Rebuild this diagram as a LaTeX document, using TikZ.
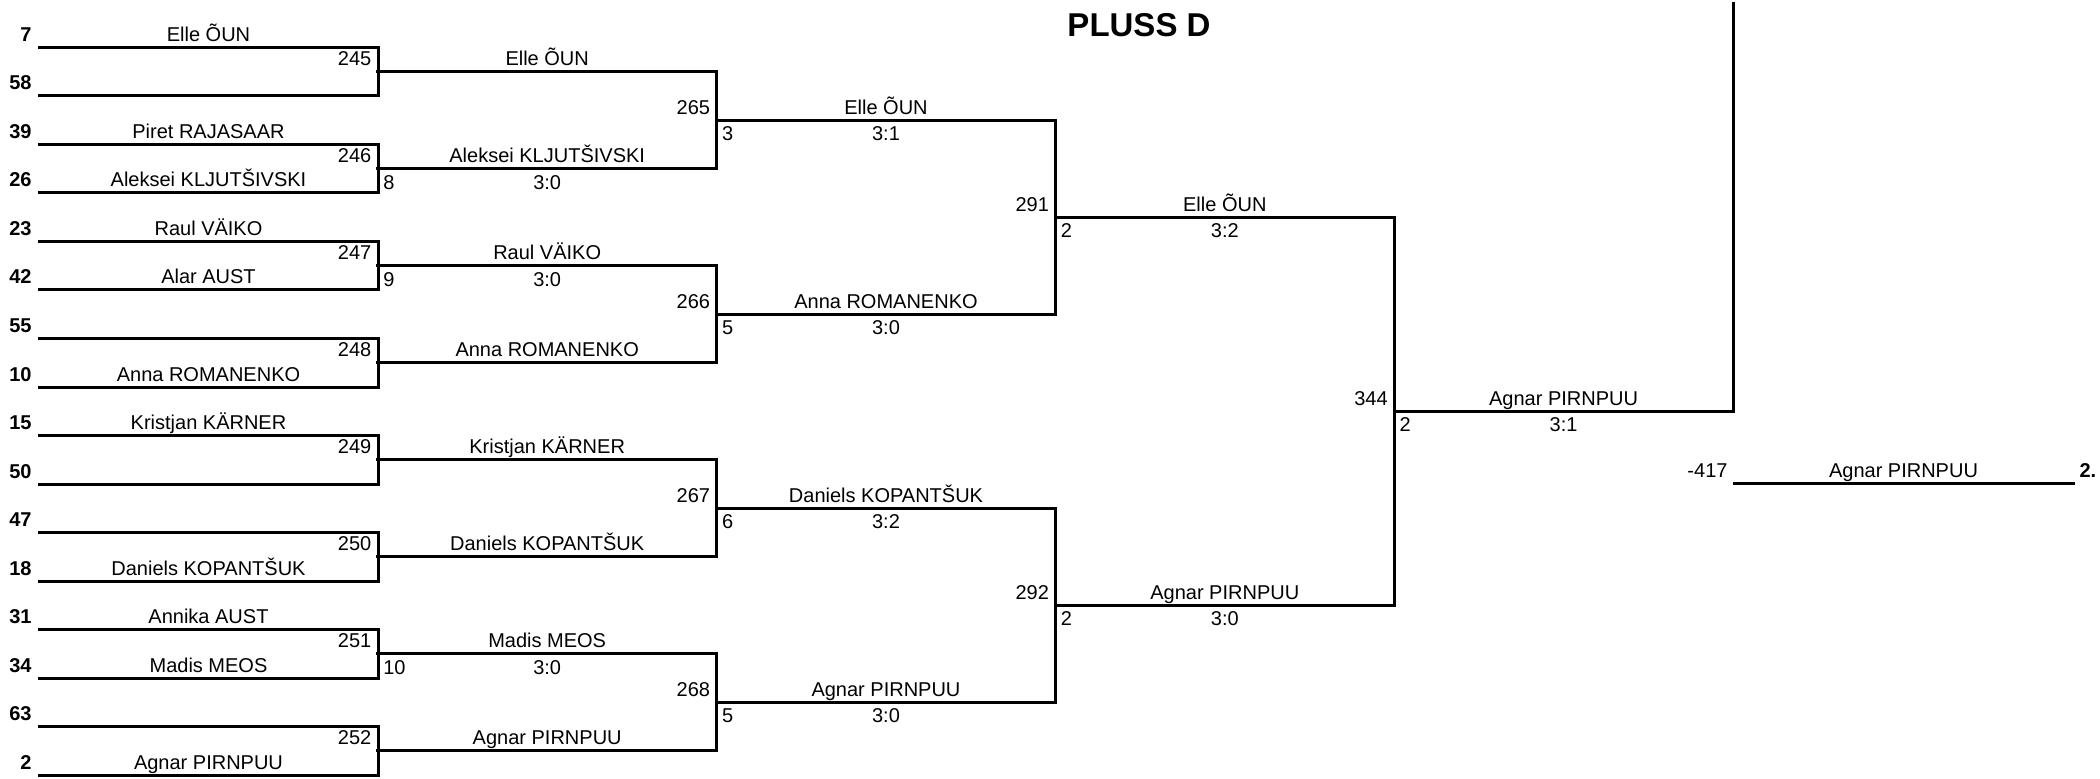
\documentclass[tikz,border=0pt]{standalone}
\usepackage{fontspec}
\setmainfont{Liberation Sans}
\usepackage{tikz}

\tikzset{
  player/.style={inner sep=0pt, anchor=base, font=\fontsize{10}{12}\selectfont},
  seedno/.style={inner sep=0pt, anchor=base east, font=\fontsize{10}{12}\selectfont\bfseries},
  matchno/.style={inner sep=0pt, anchor=base east, font=\fontsize{10}{12}\selectfont},
  tableno/.style={inner sep=0pt, anchor=north west, font=\fontsize{10}{12}\selectfont},
  result/.style={inner sep=0pt, anchor=north, font=\fontsize{10}{12}\selectfont},
}

\begin{document}
\begin{tikzpicture}[x=0.5pt, y=-0.5pt, line width=1.5pt, line cap=rect]
    \useasboundingbox (0,0) rectangle (2100,779);
    \node[font=\fontsize{16.5}{20}\selectfont\bfseries, inner sep=0pt, anchor=base] (title) at (1139,37) {PLUSS D};
    % first round
    \foreach \i/\s/\n in {0/7/Elle ÕUN, 1/58/, 2/39/Piret RAJASAAR, 3/26/Aleksei KLJUTŠIVSKI,
        4/23/Raul VÄIKO, 5/42/Alar AUST, 6/55/, 7/10/Anna ROMANENKO,
        8/15/Kristjan KÄRNER, 9/50/, 10/47/, 11/18/Daniels KOPANTŠUK,
        12/31/Annika AUST, 13/34/Madis MEOS, 14/63/, 15/2/Agnar PIRNPUU} {
        \coordinate (R0-\i) at (39,{47.3+48.53*\i});
        \coordinate (R1-\i) at (378,{47.3+48.53*\i});
        \draw (R0-\i) -- (R1-\i);
        \node[seedno] (seed\i) at (33,{41.3+48.53*\i}) {\s};
        \node[player] (p1-\i) at (208.5,{41.3+48.53*\i}) {\n};
    }
    % later rounds
    \foreach \rd/\j/\m/\w/\tn/\sco in {2/0/245/Elle ÕUN//, 2/1/246/Aleksei KLJUTŠIVSKI/8/3:0,
        2/2/247/Raul VÄIKO/9/3:0, 2/3/248/Anna ROMANENKO//, 2/4/249/Kristjan KÄRNER//,
        2/5/250/Daniels KOPANTŠUK//, 2/6/251/Madis MEOS/10/3:0, 2/7/252/Agnar PIRNPUU//,
        3/0/265/Elle ÕUN/3/3:1, 3/1/266/Anna ROMANENKO/5/3:0,
        3/2/267/Daniels KOPANTŠUK/6/3:2, 3/3/268/Agnar PIRNPUU/5/3:0,
        4/0/291/Elle ÕUN/2/3:2, 4/1/292/Agnar PIRNPUU/2/3:0,
        5/0/344/Agnar PIRNPUU/2/3:1} {
        \pgfmathtruncatemacro{\pr}{\rd-1}
        \pgfmathtruncatemacro{\ja}{2*\j}
        \pgfmathtruncatemacro{\jb}{2*\j+1}
        \pgfmathsetmacro{\xa}{39+338.8*(\rd-1)}
        \pgfmathsetmacro{\ya}{47.3+48.53*((2^(\rd-1)-1)/2+2^(\rd-1)*\j)}
        \coordinate (L\rd-\j) at (\xa,\ya);
        \coordinate (R\rd-\j) at ({\xa+338.8},\ya);
        \draw (R\pr-\ja) -- (R\pr-\jb);
        \draw (L\rd-\j) -- (R\rd-\j);
        \node[matchno] (m\m) at ({\xa-5},{\ya-6}) {\m};
        \node[player] (p\rd-\j) at ({\xa+169.4},{\ya-6}) {\w};
        \node[tableno] (t\m) at ({\xa+4},{\ya+5}) {\tn};
        \node[result] (res\m) at ({\xa+169.4},{\ya+5}) {\sco};
    }
    \coordinate (top) at (1733,4);
    \draw (R5-0) -- (top);
    % placing
    \coordinate (F-l) at (1734,484);
    \coordinate (F-r) at (2073,484);
    \draw (F-l) -- (F-r);
    \node[matchno] (m417) at (1729,478) {-417};
    \node[player] (champ) at (1903.5,478) {Agnar PIRNPUU};
    \node[seedno, anchor=base west] (place) at (2078,478) {2.};
\end{tikzpicture}
\end{document}
